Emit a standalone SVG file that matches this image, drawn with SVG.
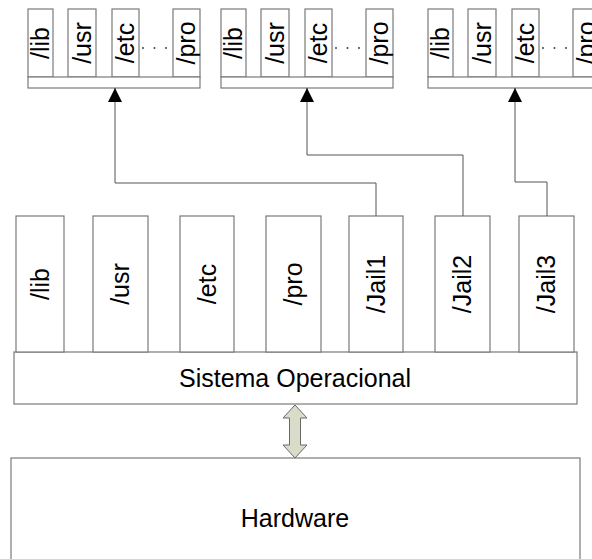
<svg xmlns="http://www.w3.org/2000/svg" width="592" height="559" viewBox="0 0 592 559">
<defs>
<style>
.box{fill:#fff;stroke:#7a7a7a;stroke-width:1.2}
.t{font-family:"Liberation Sans",Arial,sans-serif;font-size:25px;fill:#000;text-anchor:middle}
.dots{stroke:#444;stroke-width:2;stroke-linecap:round;stroke-dasharray:0 11.5}
.con{fill:none;stroke:#555;stroke-width:1}
</style>
<marker id="ah" viewBox="0 0 14 14" refX="14" refY="7" markerWidth="14" markerHeight="14" markerUnits="userSpaceOnUse" orient="auto">
<path d="M0,0 L14,7 L0,14 Z" fill="#000"/>
</marker>
<g id="fsgroup">
<rect class="box" x="0" y="9" width="25" height="68"/>
<text class="t" transform="translate(21,43) rotate(-90)">/lib</text>
<rect class="box" x="40" y="9" width="28" height="68"/>
<text class="t" transform="translate(62.5,43) rotate(-90)">/usr</text>
<rect class="box" x="84" y="9" width="27" height="68"/>
<text class="t" transform="translate(106,43) rotate(-90)">/etc</text>
<line class="dots" x1="115" y1="48" x2="140" y2="48"/>
<rect class="box" x="145" y="9" width="27" height="68"/>
<text class="t" transform="translate(167,43) rotate(-90)">/pro</text>
<rect class="box" x="0" y="77" width="172" height="11"/>
</g>
</defs>
<g id="jailfs1"><use href="#fsgroup" x="28"/></g>
<g id="jailfs2"><use href="#fsgroup" x="221"/></g>
<g id="jailfs3"><use href="#fsgroup" x="428"/></g>

<g id="so">
<rect class="box" x="14" y="352" width="563" height="52"/>
<text class="t" x="295" y="387">Sistema Operacional</text>
</g>
<g id="lib">
<rect class="box" x="16" y="216" width="48" height="136"/>
<text class="t" transform="translate(48.5,284) rotate(-90)">/lib</text>
</g>
<g id="usr">
<rect class="box" x="93" y="216" width="55" height="136"/>
<text class="t" transform="translate(129,284) rotate(-90)">/usr</text>
</g>
<g id="etc">
<rect class="box" x="180" y="216" width="54" height="136"/>
<text class="t" transform="translate(215.5,284) rotate(-90)">/etc</text>
</g>
<g id="pro">
<rect class="box" x="266" y="216" width="55" height="136"/>
<text class="t" transform="translate(302,284) rotate(-90)">/pro</text>
</g>
<g id="jail1">
<rect class="box" x="349" y="216" width="54" height="136"/>
<text class="t" transform="translate(384.5,284) rotate(-90)">/Jail1</text>
</g>
<g id="jail2">
<rect class="box" x="435" y="216" width="55" height="136"/>
<text class="t" transform="translate(471,284) rotate(-90)">/Jail2</text>
</g>
<g id="jail3">
<rect class="box" x="519" y="216" width="55" height="136"/>
<text class="t" transform="translate(555,284) rotate(-90)">/Jail3</text>
</g>
<g id="hardware">
<rect class="box" x="11" y="458" width="569" height="110"/>
<text class="t" x="295" y="527">Hardware</text>
</g>
<g id="connectors">
<path class="con" d="M376,216 V183 H115 V88" marker-end="url(#ah)"/>
<path class="con" d="M463,216 V155 H307 V88" marker-end="url(#ah)"/>
<path class="con" d="M547,216 V182 H515 V88" marker-end="url(#ah)"/>
<path d="M295,405 L307,418 L300.5,418 L300.5,445 L307,445 L295,458 L283,445 L289.5,445 L289.5,418 L283,418 Z" fill="#d9dcc8" stroke="#6a6a6a" stroke-width="1"/>
</g>
</svg>
